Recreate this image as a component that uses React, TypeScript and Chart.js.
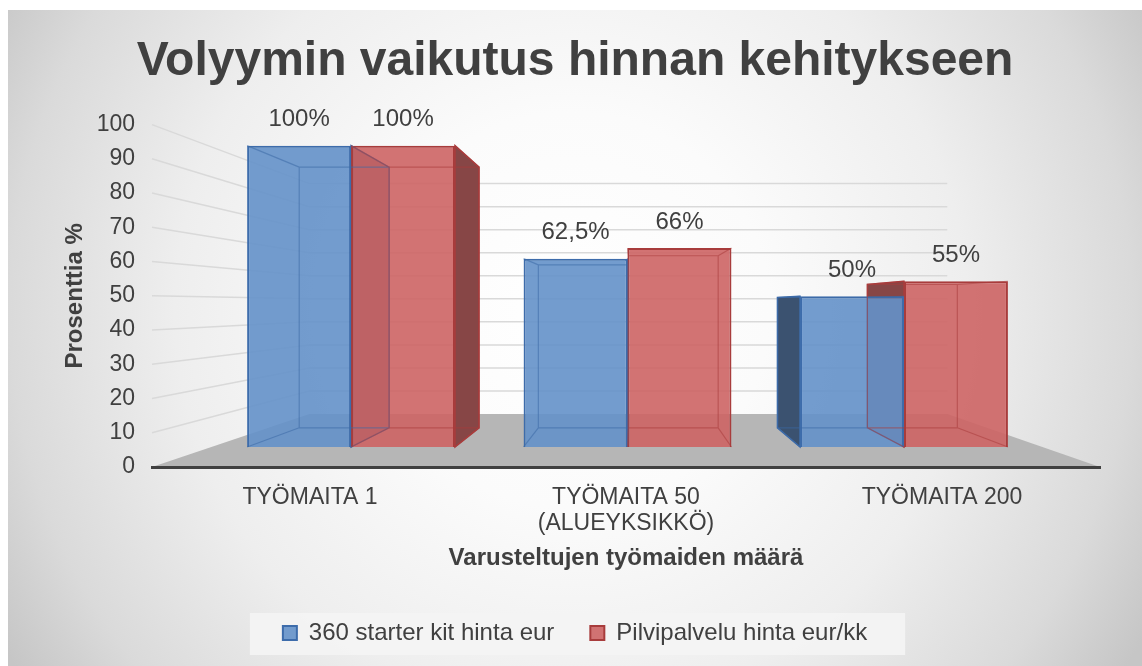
import React, { useEffect, useRef } from 'react';
import { Chart, registerables } from 'chart.js';

Chart.register(...registerables);

// ---------- data ----------
const categories: string[][] = [['TYÖMAITA 1'], ['TYÖMAITA 50', '(ALUEYKSIKKÖ)'], ['TYÖMAITA 200']];
const seriesNames: string[] = ['360 starter kit hinta eur', 'Pilvipalvelu hinta eur/kk'];
const starterKitValues: number[] = [100, 62.5, 50];
const cloudServiceValues: number[] = [100, 66, 55];
const yAxisMin = 0;
const yAxisMax = 100;
const yAxisStep = 10;
const chartTitle = 'Volyymin vaikutus hinnan kehitykseen';
const yAxisTitle = 'Prosenttia %';
const xAxisTitle = 'Varusteltujen työmaiden määrä';

// ---------- styling ----------
const FONT = "'Liberation Sans', Arial, sans-serif";
const TEXT = '#404040';
const FACE = ['rgba(100,145,201,0.9)', 'rgba(205,100,100,0.9)'];
const BORDER = ['#3d6cab', '#a83c3c'];
const SIDE = ['#3b5270', '#874646'];
const EDGE = ['rgba(60,105,165,0.55)', 'rgba(170,60,60,0.55)'];

// perspective of the 3D look (vanishing point, depth factors)
const VX = 633;
const VY = 305;
const BAR_K = 0.865;
const FLOOR_K = 0.673;

const proj = (x: number, y: number, k: number): [number, number] => [VX + (x - VX) * k, VY + (y - VY) * k];

const fmt = (v: number) => String(v).replace('.', ',') + '%';

const poly = (ctx: CanvasRenderingContext2D, pts: number[][]) => {
  ctx.beginPath();
  ctx.moveTo(pts[0][0], pts[0][1]);
  for (let i = 1; i < pts.length; i++) ctx.lineTo(pts[i][0], pts[i][1]);
  ctx.closePath();
};

const scenePlugin = {
  id: 'scene3d',
  beforeDraw(chart: any) {
    const { ctx, width, height, chartArea: ca } = chart;
    ctx.save();
    ctx.fillStyle = '#ffffff';
    ctx.fillRect(0, 0, width, height);
    const g = ctx.createRadialGradient(571, 310, 0, 571, 310, 660);
    g.addColorStop(0, '#ffffff');
    g.addColorStop(0.3, '#fbfbfb');
    g.addColorStop(0.6, '#eeeeee');
    g.addColorStop(0.85, '#dadada');
    g.addColorStop(1, '#c6c6c6');
    ctx.fillStyle = g;
    ctx.fillRect(8, 10, width - 8, height - 10);

    // legend background
    const lg = chart.legend;
    if (lg && lg.legendHitBoxes && lg.legendHitBoxes.length) {
      const hb = lg.legendHitBoxes;
      const l = hb[0].left - 33;
      const last = hb[hb.length - 1];
      const r = last.left + last.width + 38;
      ctx.fillStyle = 'rgba(244,244,244,0.9)';
      ctx.fillRect(l, lg.bottom - 42, r - l, 42);
    }

    // floor
    const [fbl, fby] = proj(ca.left, ca.bottom, FLOOR_K);
    const [fbr] = proj(ca.right, ca.bottom, FLOOR_K);
    ctx.fillStyle = '#b6b6b6';
    poly(ctx, [[ca.left, ca.bottom], [fbl, fby], [fbr, fby], [ca.right, ca.bottom]]);
    ctx.fill();

    // perspective gridlines (side wall + back wall)
    const ys = chart.scales.y;
    ctx.strokeStyle = '#d9d9d9';
    ctx.lineWidth = 1.5;
    ys.ticks.forEach((t: any) => {
      if (t.value === yAxisMin) return;
      const fy = ys.getPixelForValue(t.value);
      const [wl, wy] = proj(ca.left, fy, FLOOR_K);
      const [wr] = proj(ca.right, fy, FLOOR_K);
      ctx.beginPath();
      ctx.moveTo(ca.left, fy);
      ctx.lineTo(wl, wy);
      ctx.lineTo(wr, wy);
      ctx.stroke();
    });
    ctx.restore();
  },
  beforeDatasetsDraw(chart: any) {
    const ctx = chart.ctx;
    ctx.save();
    chart.data.datasets.forEach((_: any, di: number) => {
      const meta = chart.getDatasetMeta(di);
      meta.data.forEach((el: any) => {
        const { x, y, base, width } = el.getProps(['x', 'y', 'base', 'width'], true);
        const L = x - width / 2, R = x + width / 2, T = y, B = base;
        const [bL, bT] = proj(L, T, BAR_K);
        const [bR, bB] = proj(R, B, BAR_K);
        ctx.fillStyle = SIDE[di];
        ctx.strokeStyle = BORDER[di];
        ctx.lineWidth = 1.5;
        if (L > VX) { poly(ctx, [[L, T], [bL, bT], [bL, bB], [L, B]]); ctx.fill(); ctx.stroke(); }
        if (R < VX) { poly(ctx, [[R, T], [bR, bT], [bR, bB], [R, B]]); ctx.fill(); ctx.stroke(); }
        if (T > VY) { poly(ctx, [[L, T], [bL, bT], [bR, bT], [R, T]]); ctx.fill(); ctx.stroke(); }
      });
    });
    ctx.restore();
  },
  afterDatasetsDraw(chart: any) {
    const ctx = chart.ctx;
    ctx.save();
    chart.data.datasets.forEach((ds: any, di: number) => {
      const meta = chart.getDatasetMeta(di);
      const values: number[] = ds.data.map((d: any) => d.y);
      meta.data.forEach((el: any, i: number) => {
        const { x, y, base, width } = el.getProps(['x', 'y', 'base', 'width'], true);
        const L = x - width / 2, R = x + width / 2, T = y, B = base;
        const [bL, bT] = proj(L, T, BAR_K);
        const [bR, bB] = proj(R, B, BAR_K);
        ctx.strokeStyle = EDGE[di];
        ctx.lineWidth = 1.2;
        ctx.beginPath();
        ctx.rect(bL, bT, bR - bL, bB - bT);
        ctx.moveTo(L, T); ctx.lineTo(bL, bT);
        ctx.moveTo(R, T); ctx.lineTo(bR, bT);
        ctx.moveTo(L, B); ctx.lineTo(bL, bB);
        ctx.moveTo(R, B); ctx.lineTo(bR, bB);
        ctx.stroke();

        ctx.fillStyle = TEXT;
        ctx.font = `24px ${FONT}`;
        ctx.textAlign = 'center';
        ctx.textBaseline = 'middle';
        ctx.fillText(fmt(values[i]), x, y - 26);
      });
    });
    ctx.restore();
  },
};

const toPoints = (vals: number[]) => vals.map((v, i) => ({ x: i, y: v }));

export default function App() {
  const ref = useRef<HTMLCanvasElement>(null);
  useEffect(() => {
    if (!ref.current) return;
    Chart.defaults.font.family = FONT;
    const chart = new Chart(ref.current, {
      type: 'bar',
      data: {
        labels: categories as any,
        datasets: [
          {
            label: seriesNames[0],
            data: toPoints(starterKitValues) as any,
            xAxisID: 'xb',
            yAxisID: 'yb',
            backgroundColor: FACE[0],
            borderColor: BORDER[0],
            borderWidth: 2,
            categoryPercentage: 0.752,
            barPercentage: 1,
          },
          {
            label: seriesNames[1],
            data: toPoints(cloudServiceValues) as any,
            xAxisID: 'xb',
            yAxisID: 'yb',
            backgroundColor: FACE[1],
            borderColor: BORDER[1],
            borderWidth: 2,
            categoryPercentage: 0.752,
            barPercentage: 1,
          },
        ],
      },
      options: {
        responsive: false,
        animation: false,
        devicePixelRatio: 1,
        layout: { padding: { left: 8, top: 10, right: 0, bottom: 11 } },
        plugins: {
          title: {
            display: true,
            text: chartTitle,
            color: TEXT,
            font: { size: 48, weight: 'bold', family: FONT },
            padding: { top: 23, bottom: 34 },
          },
          legend: {
            position: 'bottom',
            labels: {
              color: TEXT,
              font: { size: 24, family: FONT },
              boxWidth: 14,
              boxHeight: 14,
              padding: 36,
            },
          },
          tooltip: { enabled: false },
        },
        scales: {
          x: {
            type: 'category',
            position: 'bottom',
            offset: true,
            grid: { display: false, drawTicks: false },
            border: { display: true, color: '#404040', width: 3, z: 1 },
            ticks: {
              color: TEXT,
              font: { size: 23, family: FONT, lineHeight: 1.15 },
              padding: 17,
              maxRotation: 0,
              autoSkip: false,
            },
            title: {
              display: true,
              text: xAxisTitle,
              color: TEXT,
              font: { size: 24, weight: 'bold', family: FONT },
              padding: { top: 0, bottom: 12.6 },
            },
            afterFit: (s: any) => { s.height = 118; },
          },
          y: {
            type: 'linear',
            position: 'left',
            min: yAxisMin,
            max: yAxisMax,
            ticks: { stepSize: yAxisStep, color: TEXT, font: { size: 23, family: FONT }, padding: 17 },
            grid: { display: false, drawTicks: false },
            border: { display: false },
            title: {
              display: true,
              text: yAxisTitle,
              color: TEXT,
              font: { size: 24, weight: 'bold', family: FONT },
              padding: { top: 52.6, bottom: 0 },
            },
            afterFit: (s: any) => { s.width = 144; },
          },
          yr: {
            type: 'linear',
            position: 'right',
            display: true,
            ticks: { display: false },
            grid: { display: false, drawTicks: false },
            border: { display: false },
            afterFit: (s: any) => { s.width = 42; },
          },
          xb: {
            type: 'linear',
            display: false,
            offset: false,
            grid: { offset: false },
            min: -0.72,
            max: 2.709,
            afterBuildTicks: (s: any) => { s.ticks = categories.map((_, i) => ({ value: i })); },
          },
          yb: {
            type: 'linear',
            display: false,
            min: -6.645,
            max: 106.98,
          },
        } as any,
      },
      plugins: [scenePlugin],
    } as any);
    return () => chart.destroy();
  }, []);

  return (
    <div style={{ position: 'fixed', left: 0, top: 0, width: 1142, height: 666 }}>
      <canvas ref={ref} width={1142} height={666} style={{ display: 'block', width: 1142, height: 666 }} />
    </div>
  );
}
